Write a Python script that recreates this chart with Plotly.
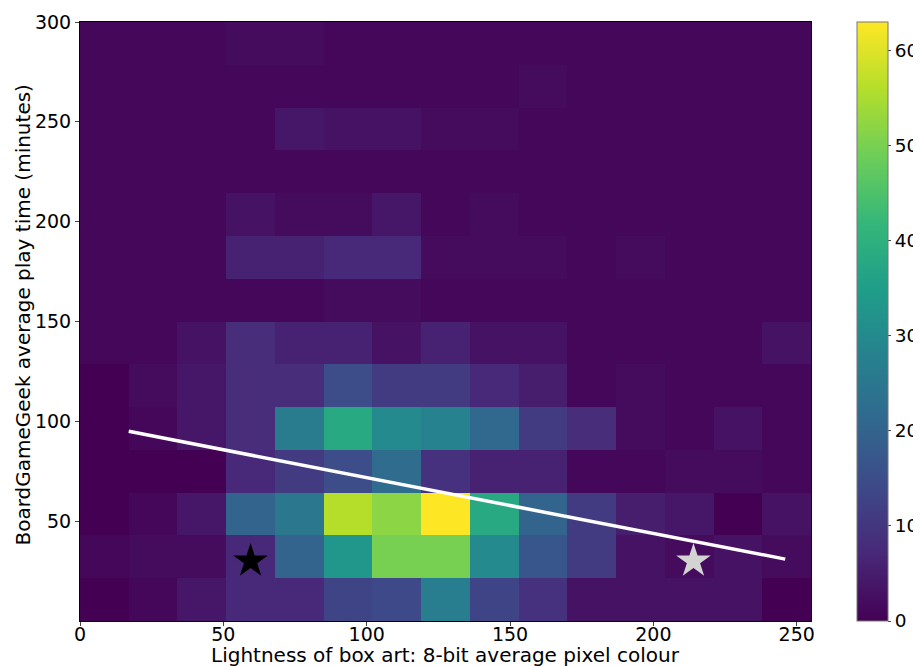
import plotly.graph_objects as go

# Bin edges (lightness 0-255 in 15 bins, play time 0-300 in 14 bins)
x_edges = [0, 17, 34, 51, 68, 85, 102, 119, 136, 153, 170, 187, 204, 221, 238, 255]
y_edges = [0, 300/14, 600/14, 900/14, 1200/14, 1500/14, 1800/14, 2100/14,
           2400/14, 2700/14, 3000/14, 3300/14, 3600/14, 3900/14, 300]

# Counts per bin, row 0 = shortest play time
row0 = [0, 1, 4, 7, 7, 13, 14, 27, 13, 9, 3, 3, 3, 3, 0]
row1 = [1, 2, 2, 7, 20, 33, 50, 50, 30, 17, 11, 3, 2, 3, 2]
row2 = [0, 1, 4, 20, 25, 56, 52, 63, 38, 20, 11, 5, 4, 0, 3]
row3 = [0, 0, 0, 7, 11, 15, 22, 9, 6, 6, 1, 1, 2, 2, 1]
row4 = [0, 1, 4, 8, 26, 38, 30, 28, 21, 11, 8, 2, 1, 3, 1]
row5 = [0, 2, 4, 8, 8, 15, 11, 11, 7, 5, 1, 2, 1, 1, 1]
row6 = [1, 1, 3, 8, 6, 6, 3, 6, 3, 3, 1, 1, 1, 1, 3]
row7 = [1, 1, 1, 1, 1, 2, 2, 1, 1, 1, 1, 1, 1, 1, 1]
row8 = [1, 1, 1, 6, 6, 7, 7, 2, 2, 2, 1, 2, 1, 1, 1]
row9 = [1, 1, 1, 3, 2, 2, 4, 1, 2, 1, 1, 1, 1, 1, 1]
row10 = [1, 1, 1, 1, 1, 1, 1, 1, 1, 1, 1, 1, 1, 1, 1]
row11 = [1, 1, 1, 1, 4, 3, 3, 2, 2, 1, 1, 1, 1, 1, 1]
row12 = [1, 1, 1, 1, 1, 1, 1, 1, 1, 2, 1, 1, 1, 1, 1]
row13 = [1, 1, 1, 2, 2, 1, 1, 1, 1, 1, 1, 1, 1, 1, 1]
counts = [row0, row1, row2, row3, row4, row5, row6, row7, row8, row9,
          row10, row11, row12, row13]

# Trend line end points
trend_x = [17, 246]
trend_y = [95, 31]

# Highlighted games
black_star = (59.5, 30)
grey_star = (214, 30)

x_ticks = [0, 50, 100, 150, 200, 250]
y_ticks = [50, 100, 150, 200, 250, 300]
cbar_ticks = [0, 10, 20, 30, 40, 50, 60]

x_title = "Lightness of box art: 8-bit average pixel colour"
y_title = "BoardGameGeek average play time (minutes)"

font = dict(family="DejaVu Sans", size=20, color="black")
tick_font = dict(family="DejaVu Sans", size=19, color="black")
cbar_font = dict(family="DejaVu Sans", size=18.5, color="black")

fig = go.Figure()
fig.add_trace(go.Heatmap(
    x=x_edges, y=y_edges, z=counts,
    colorscale="Viridis", zmin=0, zmax=63,
    colorbar=dict(
        x=1.0629, xanchor="left", xref="paper", xpad=0,
        y=0, yanchor="bottom", len=1, lenmode="fraction", ypad=0,
        thickness=31, outlinewidth=1, outlinecolor="#777",
        tickvals=cbar_ticks, ticks="outside", ticklen=3,
        tickfont=cbar_font,
    ),
    hoverinfo="skip",
))
fig.add_trace(go.Scatter(
    x=trend_x, y=trend_y, mode="lines",
    line=dict(color="white", width=3.5), showlegend=False,
))
fig.add_trace(go.Scatter(
    x=[black_star[0]], y=[black_star[1]], mode="markers",
    marker=dict(symbol="star", size=26, color="black"), showlegend=False,
))
fig.add_trace(go.Scatter(
    x=[grey_star[0]], y=[grey_star[1]], mode="markers",
    marker=dict(symbol="star", size=26, color="#d3d3d3"), showlegend=False,
))

# The page body adds an 8 px margin, so the figure is 8 px smaller.
fig.update_layout(
    width=913, height=658,
    margin=dict(l=72, r=110, t=14, b=45, autoexpand=False),
    paper_bgcolor="white", plot_bgcolor="white",
    font=font, showlegend=False,
    annotations=[
        dict(text=x_title, xref="paper", yref="paper", x=0.5, y=0,
             xanchor="center", yanchor="middle", yshift=-34,
             showarrow=False, font=font),
        dict(text=y_title, xref="paper", yref="paper", x=0, y=0.5,
             xanchor="center", yanchor="middle", xshift=-58, yshift=6,
             textangle=-90, showarrow=False, font=font),
    ],
)
fig.update_xaxes(
    range=[0, 255], tickvals=x_ticks, ticks="outside", ticklen=4,
    showline=True, linecolor="black", linewidth=1, mirror=True,
    showgrid=False, zeroline=False, tickfont=tick_font, automargin=False,
    ticklabelstandoff=-8,
)
fig.update_yaxes(
    range=[0, 300], tickvals=y_ticks, ticks="outside", ticklen=4,
    showline=True, linecolor="black", linewidth=1, mirror=True,
    showgrid=False, zeroline=False, tickfont=tick_font, automargin=False,
)

fig.write_html("out.html")
